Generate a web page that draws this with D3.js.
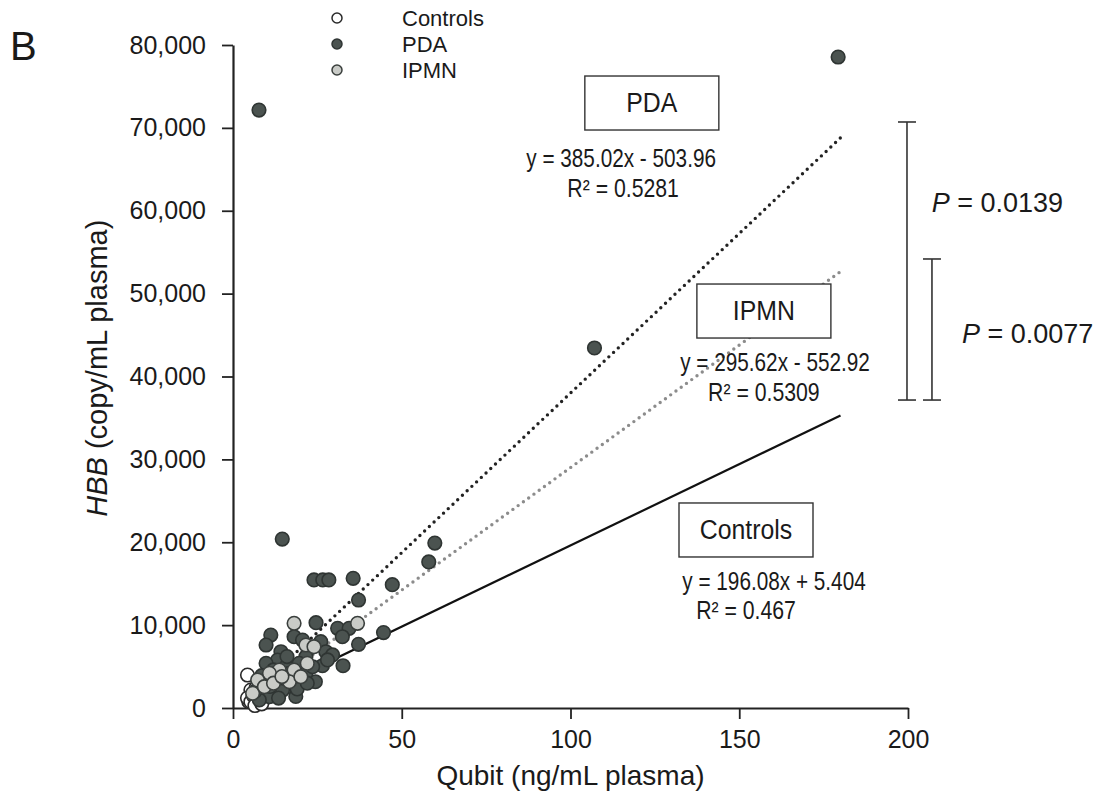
<!DOCTYPE html>
<meta charset="utf-8">
<script src="https://d3js.org/d3.v7.min.js"></script>
<style>
body { margin: 0; background: #fff; }
text { font-family: "Liberation Sans", Arial, sans-serif; fill: #1a1a1a; }
</style>
<body>
<script>

// groups and their points [Qubit ng/mL, HBB copy/mL]
var groups = ["Controls", "PDA", "IPMN"];

var controls = [
  [4.3, 3980], [5.3, 2170], [4.7, 760], [7.3, 600], [6.8, 2410], [4.3, 1200],
  [9.3, 3380], [12.2, 3980], [14.2, 4380], [15.7, 3170], [11.2, 1570], [8.8, 970],
  [17.2, 3780], [19.1, 3580], [20.6, 4380], [13.2, 2570], [10.3, 2170], [7.8, 1770],
  [5.3, 760], [22.1, 4980], [6, 1500], [8, 2800], [9.5, 2000], [11, 3000],
  [12.5, 2200], [14, 3300], [16, 4000], [18, 3000], [10, 1300], [13, 1800],
  [15, 2400], [17, 2600], [6.5, 300], [8.5, 500], [11.5, 3700], [19.5, 4800]
];

var pda = [
  [7.7, 72150], [179.3, 78550], [107.1, 43440], [59.8, 19900], [58, 17620],
  [47.2, 14880], [14.6, 20380], [24, 15450], [26.6, 15450], [28.4, 15450],
  [35.6, 15650], [37.2, 13030], [24.6, 10300], [31, 9610], [34.4, 9610],
  [32.4, 8600], [44.6, 9100], [37.2, 7680], [11.2, 8800], [9.8, 7600],
  [18.1, 8600], [20.6, 8200], [22.6, 7200], [26, 8000], [27.5, 6790],
  [29.5, 6400], [32.6, 5100], [26.5, 5100], [24.4, 3170], [14.2, 6790],
  [13.2, 5790], [9.8, 5390], [15.7, 4980], [21.6, 6190], [19.6, 5390],
  [16.7, 4180], [12.7, 3380], [17.7, 2980], [14.7, 2170], [10.8, 1370],
  [7.8, 970], [18.6, 1400], [21.6, 4180], [23.6, 4980], [12, 4600],
  [8.5, 3900], [11, 2600], [15, 3600], [19, 2300], [6.5, 2000], [13.5, 1200],
  [16, 6200], [22, 3000], [28, 5800]
];

var ipmn = [
  [18.1, 10220], [21.6, 7600], [24, 7400], [22, 5390], [18.1, 4580],
  [13.7, 4580], [10.8, 4180], [7.3, 3380], [5.8, 1770], [9.3, 2570],
  [16.7, 3170], [20.1, 3780], [36.9, 10220], [12, 3000], [14.5, 3800]
];

// linear fits: slope, intercept, x range
var fits = [
  {name: "PDA", slope: 385.02, intercept: -503.96, x0: 5, x1: 180},
  {name: "IPMN", slope: 295.62, intercept: -552.92, x0: 5, x1: 180},
  {name: "Controls", slope: 196.08, intercept: 5.404, x0: 3, x1: 180}
];

var xTicks = [0, 50, 100, 150, 200];
var yTicks = [0, 10000, 20000, 30000, 40000, 50000, 60000, 70000, 80000];

var width = 1104, height = 810;

var svg = d3.select("body").append("svg")
    .attr("width", width)
    .attr("height", height);

var x = d3.scaleLinear().domain([0, 200]).range([233, 908]);
var y = d3.scaleLinear().domain([0, 80000]).range([708, 45]);

var style = {
  Controls: {fill: "#ffffff", stroke: "#2a2a2a"},
  PDA: {fill: "#4b5350", stroke: "#2f3533"},
  IPMN: {fill: "#c9cbc7", stroke: "#3a3f3d"}
};

// condensed text, as in the original figure
function narrowText(px, py, size, str, sx) {
  return svg.append("text")
      .attr("transform", "translate(" + px + "," + py + ") scale(" + (sx || 0.8) + ",1)")
      .attr("text-anchor", "middle")
      .style("font-size", size + "px")
      .text(str);
}

// axes
var xAxis = svg.append("g")
    .attr("transform", "translate(0," + y(0) + ")")
    .call(d3.axisBottom(x).tickValues(xTicks).tickSize(11).tickPadding(11).tickSizeOuter(0));
xAxis.select(".domain").attr("stroke", "#222").attr("stroke-width", 2.2);
xAxis.selectAll(".tick line").attr("stroke", "#222").attr("stroke-width", 1.8);
xAxis.selectAll(".tick text")
    .style("font-size", "25px").attr("fill", "#1a1a1a");

var yAxis = svg.append("g")
    .attr("transform", "translate(" + x(0) + ",0)")
    .call(d3.axisLeft(y).tickValues(yTicks).tickSize(11).tickPadding(16).tickSizeOuter(0)
      .tickFormat(d3.format(",")));
yAxis.select(".domain").attr("stroke", "#222").attr("stroke-width", 2.2);
yAxis.selectAll(".tick line").attr("stroke", "#222").attr("stroke-width", 1.8);
yAxis.selectAll(".tick text")
    .style("font-size", "25px").attr("fill", "#1a1a1a");

// axis titles
svg.append("text")
    .attr("x", (x(0) + x(200)) / 2)
    .attr("y", 785)
    .attr("text-anchor", "middle")
    .style("font-size", "28px")
    .text("Qubit (ng/mL plasma)");

var yt = svg.append("text")
    .attr("transform", "translate(107," + y(41000) + ") rotate(-90)")
    .attr("text-anchor", "middle")
    .style("font-size", "29px");
yt.append("tspan").style("font-style", "italic").text("HBB");
yt.append("tspan").text(" (copy/mL plasma)");

// panel letter
svg.append("text")
    .attr("x", 10).attr("y", 60)
    .style("font-size", "40px")
    .text("B");

// fit lines
var lineStyle = {
  PDA: {stroke: "#222", width: 3.4, dash: "0 6.5"},
  IPMN: {stroke: "#8c8c8c", width: 3.4, dash: "0 6.5"},
  Controls: {stroke: "#111", width: 2.2, dash: null}
};

fits.forEach(function(f) {
  var s = lineStyle[f.name];
  svg.append("line")
      .attr("x1", x(f.x0)).attr("y1", y(f.slope * f.x0 + f.intercept))
      .attr("x2", x(f.x1)).attr("y2", y(f.slope * f.x1 + f.intercept))
      .attr("stroke", s.stroke)
      .attr("stroke-width", s.width)
      .attr("stroke-linecap", s.dash ? "round" : "butt")
      .attr("stroke-dasharray", s.dash);
});

// points: controls first, then pda, then ipmn on top
function drawPoints(data, name) {
  svg.append("g").selectAll("circle")
    .data(data)
    .enter().append("circle")
      .attr("cx", function(d) { return x(d[0]); })
      .attr("cy", function(d) { return y(d[1]); })
      .attr("r", 6.8)
      .attr("fill", style[name].fill)
      .attr("stroke", style[name].stroke)
      .attr("stroke-width", 1.6);
}
drawPoints(controls, "Controls");
drawPoints(pda, "PDA");
drawPoints(ipmn, "IPMN");

// legend
var legend = svg.append("g");
groups.forEach(function(g, i) {
  var ly = 18 + i * 26;
  legend.append("circle")
      .attr("cx", 337).attr("cy", ly)
      .attr("r", 5)
      .attr("fill", style[g].fill)
      .attr("stroke", style[g].stroke)
      .attr("stroke-width", 1.5);
  legend.append("text")
      .attr("x", 402).attr("y", ly + 8)
      .style("font-size", "22px")
      .text(g);
});

// boxed labels and equations (placed in data space)
var notes = [
  {label: "PDA", bx: 124.1, by: 73000, eq: "y = 385.02x - 503.96", ex: 115, ey: 66300, r2: "R² = 0.5281", rx: 115.6, ry: 62600},
  {label: "IPMN", bx: 157.3, by: 47900, eq: "y = 295.62x - 552.92", ex: 160.6, ey: 41600, r2: "R² = 0.5309", rx: 157.3, ry: 38000},
  {label: "Controls", bx: 152, by: 21480, eq: "y = 196.08x + 5.404", ex: 160.3, ey: 15250, r2: "R² = 0.467", rx: 152, ry: 11700}
];

notes.forEach(function(n) {
  var cx = x(n.bx), cy = y(n.by);
  svg.append("rect")
      .attr("x", cx - 67).attr("y", cy - 27)
      .attr("width", 134).attr("height", 54)
      .attr("fill", "#fff")
      .attr("stroke", "#333")
      .attr("stroke-width", 1.4);
  narrowText(cx, cy + 9, 27, n.label, 0.92);
  narrowText(x(n.ex), y(n.ey) + 8, 25, n.eq, 0.83);
  narrowText(x(n.rx), y(n.ry) + 8, 25, n.r2, 0.85);
});

// significance brackets
var brackets = [
  {xv: 199.7, top: 70710, bottom: 37160, p: "0.0139", tx: 207, ty: 61000},
  {xv: 207.1, top: 54180, bottom: 37160, p: "0.0077", tx: 216, ty: 45300}
];

brackets.forEach(function(b) {
  var bx = x(b.xv);
  var g = svg.append("g").attr("stroke", "#333").attr("stroke-width", 1.6);
  g.append("line").attr("x1", bx).attr("x2", bx).attr("y1", y(b.top)).attr("y2", y(b.bottom));
  g.append("line").attr("x1", bx - 9).attr("x2", bx + 9).attr("y1", y(b.top)).attr("y2", y(b.top));
  g.append("line").attr("x1", bx - 9).attr("x2", bx + 9).attr("y1", y(b.bottom)).attr("y2", y(b.bottom));
  var t = svg.append("text")
      .attr("x", x(b.tx)).attr("y", y(b.ty) + 10)
      .style("font-size", "27px");
  t.append("tspan").style("font-style", "italic").text("P");
  t.append("tspan").text(" = " + b.p);
});

</script>
</body>
</html>
